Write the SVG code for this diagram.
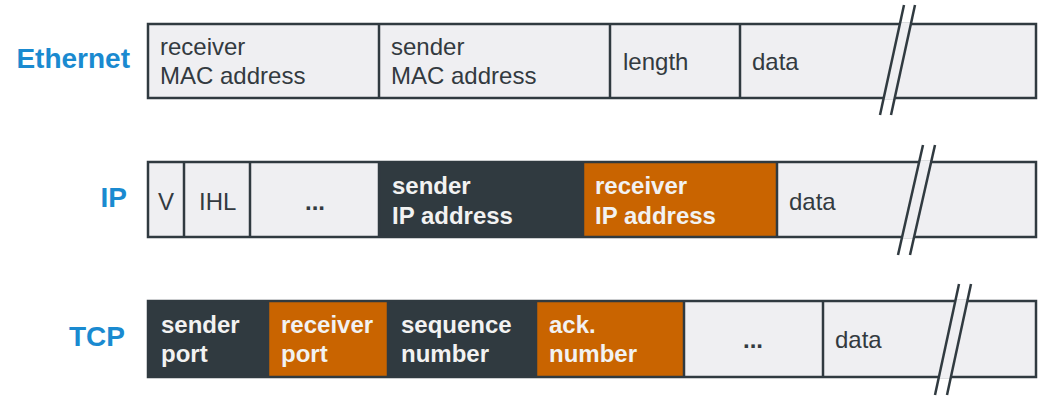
<svg xmlns="http://www.w3.org/2000/svg" width="1043" height="396" viewBox="0 0 1043 396">
<style>
.lt{fill:#efeff2}
.dk{fill:#303a40}
.or{fill:#c96400}
.bd{fill:none;stroke:#303a40;stroke-width:2.5}
.dv{stroke:#303a40;stroke-width:2.5}
.t{font-family:"Liberation Sans",Arial,sans-serif;font-size:24px;fill:#333a40}
.dots{font-family:"Liberation Sans",Arial,sans-serif;font-size:24px;font-weight:bold;fill:#333a40;text-anchor:middle}
.tb{font-family:"Liberation Sans",Arial,sans-serif;font-size:24px;font-weight:bold;fill:#f2f2f2}
.h{font-family:"Liberation Sans",Arial,sans-serif;font-size:28px;font-weight:bold;fill:#1a8ad0;text-anchor:end}
.brk{stroke:#303a40;stroke-width:2.5;fill:none}
</style>
<rect width="1043" height="396" fill="#ffffff"/>
<g id="ethernet">
  <text class="h" x="130" y="68">Ethernet</text>
  <rect class="lt" x="148" y="24" width="888" height="74"/>
  <line class="dv" x1="379" y1="24" x2="379" y2="98"/>
  <line class="dv" x1="610" y1="24" x2="610" y2="98"/>
  <line class="dv" x1="740" y1="24" x2="740" y2="98"/>
  <rect class="bd" x="148" y="24" width="888" height="74"/>
  <text class="t" x="160" y="55">receiver</text>
  <text class="t" x="160" y="84">MAC address</text>
  <text class="t" x="391" y="55">sender</text>
  <text class="t" x="391" y="84">MAC address</text>
  <text class="t" x="623" y="70">length</text>
  <text class="t" x="752" y="70">data</text>
  <polygon class="lt" points="900.2,22.5 911.2,22.5 894.4,99.5 883.4,99.5"/>
  <line class="brk" x1="904" y1="5" x2="880" y2="115"/>
  <line class="brk" x1="915" y1="5" x2="891" y2="115"/>
</g>
<g id="ip">
  <text class="h" x="127" y="207">IP</text>
  <rect class="lt" x="148" y="162" width="888" height="75"/>
  <rect class="dk" x="379" y="162" width="204" height="75"/>
  <rect class="or" x="583" y="162" width="194" height="75"/>
  <line class="dv" x1="184" y1="162" x2="184" y2="237"/>
  <line class="dv" x1="250" y1="162" x2="250" y2="237"/>
  <line class="dv" x1="379" y1="162" x2="379" y2="237"/>
  <line class="dv" x1="583" y1="162" x2="583" y2="237"/>
  <line class="dv" x1="777" y1="162" x2="777" y2="237"/>
  <rect class="bd" x="148" y="162" width="888" height="75"/>
  <text class="t" x="158" y="210">V</text>
  <text class="t" x="199" y="210">IHL</text>
  <text class="dots" x="315" y="210">...</text>
  <text class="tb" x="392" y="194">sender</text>
  <text class="tb" x="392" y="224">IP address</text>
  <text class="tb" x="595" y="194">receiver</text>
  <text class="tb" x="595" y="224">IP address</text>
  <text class="t" x="789" y="210">data</text>
  <polygon class="lt" points="919.5,160.5 931.5,160.5 913.8,238.5 901.8,238.5"/>
  <line class="brk" x1="923" y1="145" x2="898" y2="255"/>
  <line class="brk" x1="935" y1="145" x2="910" y2="255"/>
</g>
<g id="tcp">
  <text class="h" x="125" y="346">TCP</text>
  <rect class="lt" x="148" y="301" width="888" height="76"/>
  <rect class="dk" x="148" y="301" width="120" height="76"/>
  <rect class="or" x="268" y="301" width="120" height="76"/>
  <rect class="dk" x="388" y="301" width="148" height="76"/>
  <rect class="or" x="536" y="301" width="148" height="76"/>
  <line class="dv" x1="268" y1="301" x2="268" y2="377"/>
  <line class="dv" x1="388" y1="301" x2="388" y2="377"/>
  <line class="dv" x1="536" y1="301" x2="536" y2="377"/>
  <line class="dv" x1="684" y1="301" x2="684" y2="377"/>
  <line class="dv" x1="823" y1="301" x2="823" y2="377"/>
  <rect class="bd" x="148" y="301" width="888" height="76"/>
  <text class="tb" x="161" y="333">sender</text>
  <text class="tb" x="161" y="362">port</text>
  <text class="tb" x="281" y="333">receiver</text>
  <text class="tb" x="281" y="362">port</text>
  <text class="tb" x="401" y="333">sequence</text>
  <text class="tb" x="401" y="362">number</text>
  <text class="tb" x="549" y="333">ack.</text>
  <text class="tb" x="549" y="362">number</text>
  <text class="dots" x="753" y="348">...</text>
  <text class="t" x="835" y="348">data</text>
  <polygon class="lt" points="955.6,299.5 967.6,299.5 950.6,378.5 938.6,378.5"/>
  <line class="brk" x1="959" y1="284" x2="935" y2="395"/>
  <line class="brk" x1="971" y1="284" x2="947" y2="395"/>
</g>
</svg>
